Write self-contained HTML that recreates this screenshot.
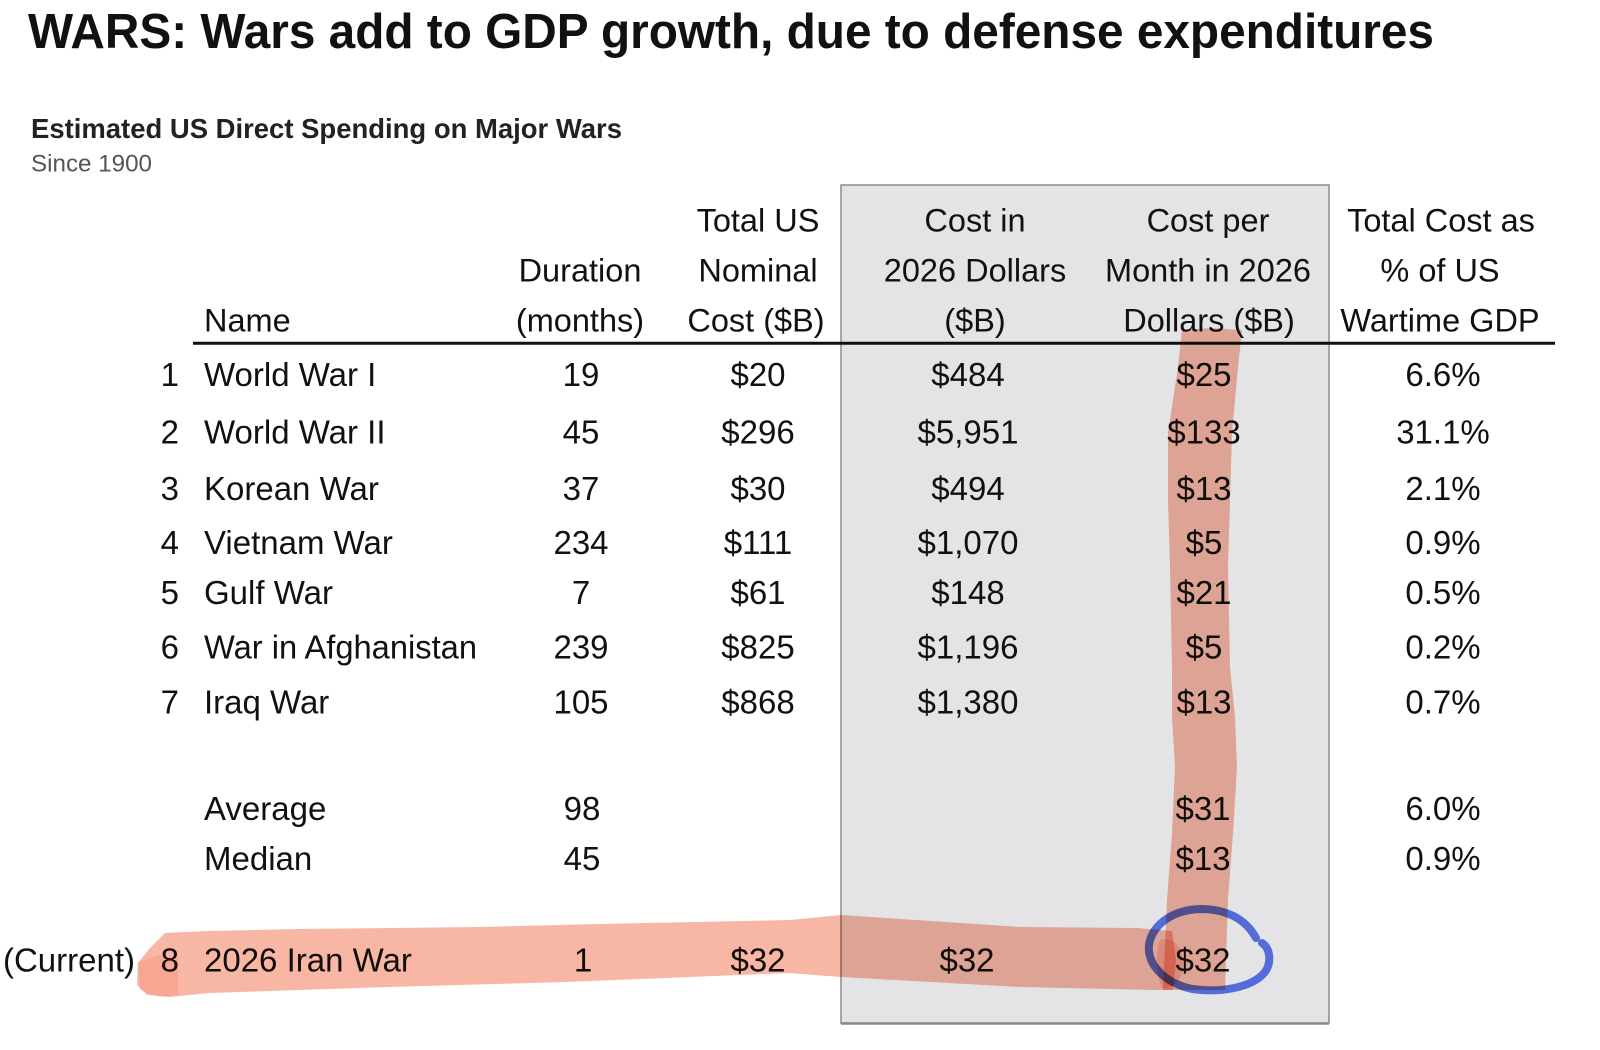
<!DOCTYPE html>
<html>
<head>
<meta charset="utf-8">
<style>
  html, body { margin: 0; padding: 0; background: #ffffff; }
  svg { display: block; }
  text { font-family: "Liberation Sans", Arial, sans-serif; fill: #111; }
  .h { font-size: 32.5px; text-anchor: middle; }
  .d { font-size: 33px; text-anchor: middle; }
  .n { font-size: 33px; text-anchor: start; }
  .r { font-size: 33px; text-anchor: end; }
  .hl { fill: #f8b6a4; mix-blend-mode: multiply; }
</style>
</head>
<body>
<svg width="1600" height="1050" viewBox="0 0 1600 1050" xmlns="http://www.w3.org/2000/svg">
  <rect x="0" y="0" width="1600" height="1050" fill="#ffffff"/>

  <!-- Titles -->
  <text x="28" y="48" style="font-size:49px;font-weight:bold;" textLength="1406" lengthAdjust="spacingAndGlyphs">WARS: Wars add to GDP growth, due to defense expenditures</text>
  <text x="31" y="138" style="font-size:28px;font-weight:bold;fill:#222;" textLength="591" lengthAdjust="spacingAndGlyphs">Estimated US Direct Spending on Major Wars</text>
  <text x="31" y="171.5" style="font-size:24px;fill:#555;" textLength="121" lengthAdjust="spacingAndGlyphs">Since 1900</text>

  <!-- Shaded box -->
  <rect x="841" y="185" width="488" height="838" fill="#e4e4e6" stroke="#8c8c8c" stroke-width="1.5"/>
  <line x1="841" y1="1023.5" x2="1329" y2="1023.5" stroke="#8a8a8a" stroke-width="2.5"/>

  <!-- Header -->
  <text class="h" x="758" y="231.7">Total US</text>
  <text class="h" x="975" y="231.7">Cost in</text>
  <text class="h" x="1208" y="231.7">Cost per</text>
  <text class="h" x="1441" y="231.7">Total Cost as</text>

  <text class="h" x="580" y="281.7">Duration</text>
  <text class="h" x="758" y="281.7">Nominal</text>
  <text class="h" x="975" y="281.7">2026 Dollars</text>
  <text class="h" x="1208" y="281.7">Month in 2026</text>
  <text class="h" x="1440" y="281.7">% of US</text>

  <text x="204" y="331.7" style="font-size:32.5px;">Name</text>
  <text class="h" x="580" y="331.7">(months)</text>
  <text class="h" x="756" y="331.7">Cost ($B)</text>
  <text class="h" x="975" y="331.7">($B)</text>
  <text class="h" x="1209" y="331.7">Dollars ($B)</text>
  <text class="h" x="1440" y="331.7">Wartime GDP</text>

  <line x1="193" y1="343.3" x2="1555" y2="343.3" stroke="#111" stroke-width="3"/>

  <!-- Rows -->
  <g>
    <text class="r" x="179" y="386">1</text>
    <text class="n" x="204" y="386">World War I</text>
    <text class="d" x="581" y="386">19</text>
    <text class="d" x="758" y="386">$20</text>
    <text class="d" x="968" y="386">$484</text>
    <text class="d" x="1204" y="386">$25</text>
    <text class="d" x="1443" y="386">6.6%</text>

    <text class="r" x="179" y="443.5">2</text>
    <text class="n" x="204" y="443.5">World War II</text>
    <text class="d" x="581" y="443.5">45</text>
    <text class="d" x="758" y="443.5">$296</text>
    <text class="d" x="968" y="443.5">$5,951</text>
    <text class="d" x="1204" y="443.5">$133</text>
    <text class="d" x="1443" y="443.5">31.1%</text>

    <text class="r" x="179" y="500">3</text>
    <text class="n" x="204" y="500">Korean War</text>
    <text class="d" x="581" y="500">37</text>
    <text class="d" x="758" y="500">$30</text>
    <text class="d" x="968" y="500">$494</text>
    <text class="d" x="1204" y="500">$13</text>
    <text class="d" x="1443" y="500">2.1%</text>

    <text class="r" x="179" y="554">4</text>
    <text class="n" x="204" y="554">Vietnam War</text>
    <text class="d" x="581" y="554">234</text>
    <text class="d" x="758" y="554">$111</text>
    <text class="d" x="968" y="554">$1,070</text>
    <text class="d" x="1204" y="554">$5</text>
    <text class="d" x="1443" y="554">0.9%</text>

    <text class="r" x="179" y="604">5</text>
    <text class="n" x="204" y="604">Gulf War</text>
    <text class="d" x="581" y="604">7</text>
    <text class="d" x="758" y="604">$61</text>
    <text class="d" x="968" y="604">$148</text>
    <text class="d" x="1204" y="604">$21</text>
    <text class="d" x="1443" y="604">0.5%</text>

    <text class="r" x="179" y="658.5">6</text>
    <text class="n" x="204" y="658.5" textLength="273" lengthAdjust="spacingAndGlyphs">War in Afghanistan</text>
    <text class="d" x="581" y="658.5">239</text>
    <text class="d" x="758" y="658.5">$825</text>
    <text class="d" x="968" y="658.5">$1,196</text>
    <text class="d" x="1204" y="658.5">$5</text>
    <text class="d" x="1443" y="658.5">0.2%</text>

    <text class="r" x="179" y="713.5">7</text>
    <text class="n" x="204" y="713.5">Iraq War</text>
    <text class="d" x="581" y="713.5">105</text>
    <text class="d" x="758" y="713.5">$868</text>
    <text class="d" x="968" y="713.5">$1,380</text>
    <text class="d" x="1204" y="713.5">$13</text>
    <text class="d" x="1443" y="713.5">0.7%</text>

    <text class="n" x="204" y="820">Average</text>
    <text class="d" x="582" y="820">98</text>
    <text class="d" x="1203" y="820">$31</text>
    <text class="d" x="1443" y="820">6.0%</text>

    <text class="n" x="204" y="870">Median</text>
    <text class="d" x="582" y="870">45</text>
    <text class="d" x="1203" y="870">$13</text>
    <text class="d" x="1443" y="870">0.9%</text>

    <text class="r" x="135" y="971.5">(Current)</text>
    <text class="r" x="179" y="971.5">8</text>
    <text class="n" x="204" y="971.5">2026 Iran War</text>
    <text class="d" x="583" y="971.5">1</text>
    <text class="d" x="758" y="971.5">$32</text>
    <text class="d" x="967" y="971.5">$32</text>
    <text class="d" x="1203" y="971.5">$32</text>
  </g>

  <!-- Highlighter strokes -->
  <polygon class="hl" points="1182,330 1178,367 1168,433 1168,500 1170,567 1172,667 1172,717 1175,767 1172,833 1167,900 1163,990 1225,990 1228,900 1233,833 1237,767 1235,717 1230,667 1228,567 1230,500 1232,433 1238,367 1242,330 1212,328"/>
  <polygon class="hl" points="138,963 150,948 165,933 209,931 300,929 477,927 600,924 790,920 841,915 1020,927 1137,928 1172,931 1176,960 1173,990 1153,990 1020,987 841,977 789,973 566,982 388,987 209,993 170,997 147,995 137,985"/>
  <polygon class="hl" points="138,962 160,955 178,958 178,995 160,997 140,990" style="opacity:0.3"/>
  <path class="hl" d="M1160,940 C1172,936 1182,945 1183,962 C1183,978 1176,988 1162,988 C1156,975 1155,955 1160,940 Z" style="opacity:0.5"/>

  <!-- Blue circle -->
  <path d="M1256,938 C1245,918 1225,909 1200,909 C1172,910 1152,925 1149,945 C1147,965 1165,983 1192,989 C1220,993 1252,988 1265,972 C1272,962 1270,948 1262,943"
        fill="none" stroke="#4f6ef0" stroke-width="8" stroke-linecap="round" style="mix-blend-mode:multiply;opacity:0.92"/>
</svg>
</body>
</html>
